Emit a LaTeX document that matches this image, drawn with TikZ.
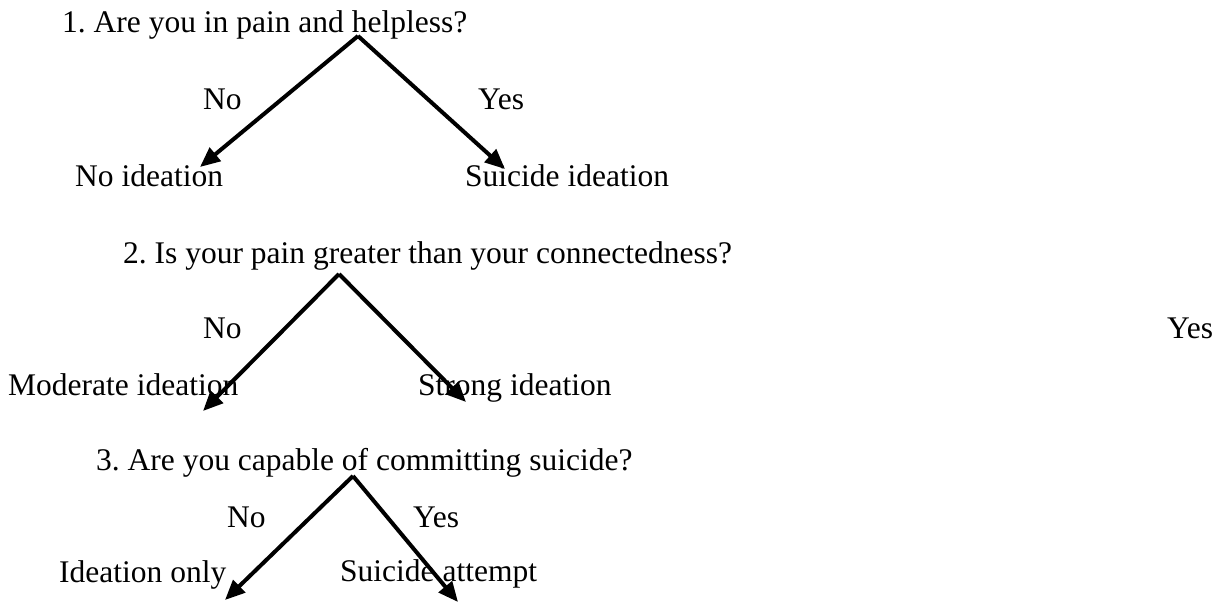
\documentclass[tikz,border=0pt]{standalone}
\usepackage{fontspec}
\setmainfont{Liberation Serif}
\usetikzlibrary{arrows.meta}
\frenchspacing
\begin{document}
\begin{tikzpicture}[x=1pt,y=-1pt,
  txt/.style={anchor=base west,inner sep=0pt,font=\fontsize{31.5}{38}\selectfont},
  branch/.style={line width=4pt,-{Triangle[length=20pt,width=17pt]}}]
\useasboundingbox (0,0) rectangle (1220,604);
% Question 1
\node[txt] (q1) at (62,33) {1. Are you in pain and helpless?};
\node[txt] (no1) at (203,110) {No};
\node[txt] (yes1) at (478,110) {Yes};
\node[txt] (a1) at (75,186) {No ideation};
\node[txt] (b1) at (465,186) {Suicide ideation};
\coordinate (r1) at (358,36);
\coordinate (l1) at (200,167);
\coordinate (rr1) at (505,169);
\draw[branch] (r1) -- (l1);
\draw[branch] (r1) -- (rr1);
% Question 2
\node[txt] (q2) at (123,263) {2. Is your pain greater than your connectedness?};
\node[txt] (no2) at (203,338) {No};
\node[txt] (yes2) at (1167,338) {Yes};
\node[txt] (a2) at (8,395) {Moderate ideation};
\node[txt] (b2) at (418,395) {Strong ideation};
\coordinate (r2) at (339,274);
\coordinate (l2) at (203,411);
\coordinate (rr2) at (466,402);
\draw[branch] (r2) -- (l2);
\draw[branch] (r2) -- (rr2);
% Question 3
\node[txt] (q3) at (96,470) {3. Are you capable of committing suicide?};
\node[txt] (no3) at (227,527) {No};
\node[txt] (yes3) at (413,527) {Yes};
\node[txt] (a3) at (59,582) {Ideation only};
\node[txt] (b3) at (340,581) {Suicide attempt};
\coordinate (r3) at (353,476);
\coordinate (l3) at (225,600);
\coordinate (rr3) at (458,602);
\draw[branch] (r3) -- (l3);
\draw[branch] (r3) -- (rr3);
\end{tikzpicture}
\end{document}
